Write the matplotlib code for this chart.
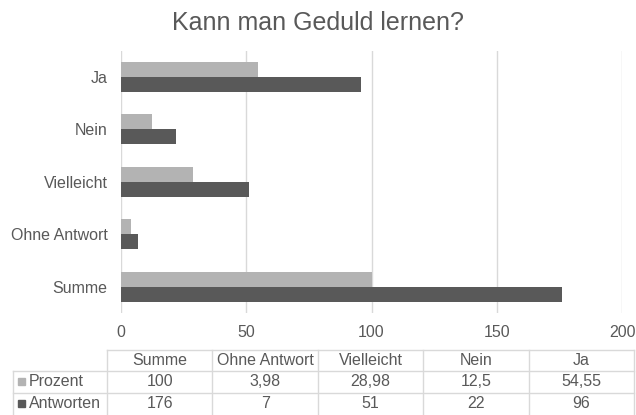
import numpy as np
import matplotlib.pyplot as plt

plt.rcParams['font.family'] = ['Liberation Sans', 'DejaVu Sans']

# data, top to bottom as drawn
categories = ["Ja", "Nein", "Vielleicht", "Ohne Antwort", "Summe"]
prozent = [54.55, 12.5, 28.98, 3.98, 100]
antworten = [96, 22, 51, 7, 176]
prozent_txt = ["54,55", "12,5", "28,98", "3,98", "100"]
antworten_txt = ["96", "22", "51", "7", "176"]
x_ticks = [0, 50, 100, 150, 200]

light = "#b3b3b3"
dark = "#595959"
grid_c = "#d9d9d9"
txt_c = "#595959"

fig = plt.figure(figsize=(6.36, 4.15), dpi=100)
ax = fig.add_axes([0.1898, 0.246, 0.7887, 0.6316])

y = np.arange(len(categories))
h = 0.286
ax.barh(y - h / 2, prozent, height=h, color=light, label="Prozent")
ax.barh(y + h / 2, antworten, height=h, color=dark, label="Antworten")

ax.set_ylim(len(categories) - 0.5, -0.5)
ax.set_xlim(0, 200)
ax.set_xticks(x_ticks)
ax.set_yticks(y)
ax.set_yticklabels(categories)
ax.tick_params(axis='both', length=0, labelsize=11.5, colors=txt_c)
ax.tick_params(axis='y', pad=9.5)
ax.tick_params(axis='x', pad=9)
ax.xaxis.grid(True, color=grid_c, linewidth=1)
ax.set_axisbelow(True)
for s in ax.spines.values():
    s.set_visible(False)

fig.text(0.5, 0.945, "Kann man Geduld lernen?", ha='center', va='center',
         fontsize=18, color=txt_c)

# data table below the chart, drawn in pixel coordinates
tb = fig.add_axes([0, 0, 1, 1])
tb.set_xlim(0, 636)
tb.set_ylim(415, 0)
tb.axis('off')

col_edges = np.linspace(107, 634, 6)
row_edges = [349.5, 371, 392.5, 414]
left = 13
tb_cols = categories[::-1]
rows = [("Prozent", light, prozent_txt[::-1]),
        ("Antworten", dark, antworten_txt[::-1])]

lw = 1
tb.plot([col_edges[0], col_edges[-1]], [row_edges[0]] * 2, color=grid_c, lw=lw)
for r in row_edges[1:-1]:
    tb.plot([left, col_edges[-1]], [r, r], color=grid_c, lw=lw)
for c in col_edges:
    tb.plot([c, c], [row_edges[0], 416], color=grid_c, lw=lw)
tb.plot([left, left], [row_edges[1], 416], color=grid_c, lw=lw)

for i, name in enumerate(tb_cols):
    cx = (col_edges[i] + col_edges[i + 1]) / 2
    tb.text(cx, (row_edges[0] + row_edges[1]) / 2, name, ha='center',
            va='center', fontsize=11.5, color=txt_c)

for j, (label, col, vals) in enumerate(rows):
    cy = (row_edges[j + 1] + row_edges[j + 2]) / 2
    tb.add_patch(plt.Rectangle((18, cy - 3.5), 7, 7, color=col))
    tb.text(29, cy, label, ha='left', va='center', fontsize=11.5, color=txt_c)
    for i, v in enumerate(vals):
        cx = (col_edges[i] + col_edges[i + 1]) / 2
        tb.text(cx, cy, v, ha='center', va='center', fontsize=11.5, color=txt_c)

fig.savefig("out.png", dpi=100)
